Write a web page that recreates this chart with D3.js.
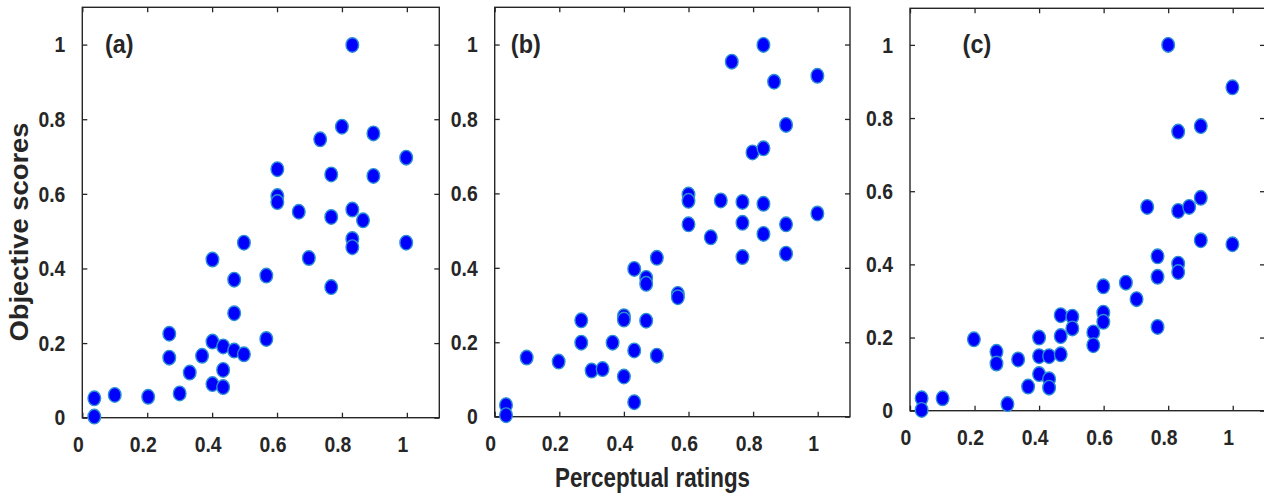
<!DOCTYPE html>
<html>
<head>
<meta charset="utf-8">
<script src="https://cdn.jsdelivr.net/npm/d3@7"></script>
<style>
  body { margin: 0; background: #fff; }
  text { font-family: "Liberation Sans", Arial, sans-serif; font-weight: bold; fill: #262626; }
</style>
</head>
<body>
<div id="chart"></div>
<script>
// data
const xA = [0.037,0.037,0.10,0.203,0.268,0.268,0.30,0.331,0.369,0.401,0.401,0.401,0.434,0.434,0.434,0.468,0.468,0.468,0.498,0.498,
  0.567,0.567,0.601,0.601,0.601,0.667,0.698,0.733,0.767,0.767,0.767,0.80,0.832,0.832,0.832,0.832,0.865,0.897,0.897,0.998,0.998];
const yA = [0.052,0.003,0.061,0.056,0.225,0.161,0.065,0.121,0.166,0.424,0.204,0.09,0.191,0.128,0.082,0.37,0.28,0.18,0.469,0.17,
  0.381,0.211,0.666,0.594,0.578,0.552,0.428,0.746,0.652,0.538,0.35,0.78,0.999,0.558,0.479,0.457,0.529,0.762,0.648,0.697,0.469];

const xB = [0.035,0.035,0.099,0.198,0.268,0.268,0.30,0.334,0.365,0.40,0.40,0.40,0.432,0.432,0.432,0.469,0.469,0.469,0.502,0.502,
  0.567,0.567,0.60,0.60,0.60,0.669,0.70,0.734,0.767,0.767,0.767,0.798,0.832,0.832,0.832,0.832,0.865,0.902,0.902,0.902,0.999,0.999];
const yB = [0.031,0.004,0.159,0.148,0.259,0.199,0.124,0.128,0.199,0.27,0.261,0.108,0.397,0.178,0.039,0.373,0.357,0.258,0.427,0.164,
  0.33,0.321,0.597,0.58,0.517,0.482,0.581,0.954,0.577,0.521,0.429,0.71,0.999,0.721,0.572,0.491,0.90,0.784,0.517,0.438,0.916,0.546];

const xC = [0.036,0.036,0.101,0.198,0.268,0.268,0.302,0.335,0.366,0.40,0.40,0.40,0.431,0.431,0.431,0.467,0.467,0.467,0.503,0.503,
  0.568,0.568,0.599,0.599,0.599,0.669,0.702,0.735,0.767,0.767,0.767,0.80,0.831,0.831,0.831,0.831,0.865,0.901,0.901,0.901,0.999,0.999];
const yC = [0.034,0.002,0.034,0.195,0.161,0.129,0.018,0.14,0.066,0.20,0.149,0.10,0.149,0.086,0.063,0.261,0.204,0.154,0.257,0.225,
  0.214,0.179,0.34,0.268,0.243,0.35,0.305,0.557,0.422,0.366,0.229,1.0,0.763,0.546,0.402,0.379,0.557,0.778,0.582,0.466,0.884,0.455];

const tickVals = [0, 0.2, 0.4, 0.6, 0.8, 1];
const tickLabels = ["0", "0.2", "0.4", "0.6", "0.8", "1"];
const panelLabels = ["(a)", "(b)", "(c)"];
const xTitle = "Perceptual ratings";
const yTitle = "Objective scores";

const width = 1264, height = 494;
const axisColor = "#262626";

const panels = [
  { xs: xA, ys: yA, left: 82.3, right: 439.3, top: 7.3, bottom: 417.7, tagX: 0.07 },
  { xs: xB, ys: yB, left: 494.7, right: 850, top: 7.3, bottom: 416.7, tagX: 0.05 },
  { xs: xC, ys: yC, left: 910, right: 1265, top: 8.3, bottom: 410.7, tagX: 0.163 }
];

const svg = d3.select("#chart").append("svg")
  .attr("width", width)
  .attr("height", height);

panels.forEach((p, i) => {
  const x = d3.scaleLinear().domain([0, 1.1]).range([p.left, p.right]);
  const y = d3.scaleLinear().domain([0, 1.1]).range([p.bottom, p.top]);
  const g = svg.append("g");

  // inward ticks on all four sides, like the original
  const axes = [
    { ax: d3.axisBottom(x), t: `translate(0,${p.bottom})` },
    { ax: d3.axisTop(x), t: `translate(0,${p.top})` },
    { ax: d3.axisLeft(y), t: `translate(${p.left},0)` },
    { ax: d3.axisRight(y), t: `translate(${p.right},0)` }
  ];
  axes.forEach(a => {
    const ag = g.append("g")
      .attr("transform", a.t)
      .call(a.ax.tickValues(tickVals).tickSizeInner(-5).tickSizeOuter(0).tickFormat(""));
    ag.select(".domain").remove();
    ag.selectAll("line").attr("stroke", axisColor).attr("stroke-width", 1.3);
  });

  // frame
  g.append("rect")
    .attr("x", p.left).attr("y", p.top)
    .attr("width", p.right - p.left).attr("height", p.bottom - p.top)
    .attr("fill", "none").attr("stroke", axisColor).attr("stroke-width", 1.4);

  // tick labels (the source font is a bit condensed)
  g.selectAll(".xt").data(tickVals).enter().append("text")
    .attr("class", "xt")
    .attr("transform", d => `translate(${x(d) - 4},${p.bottom + 34}) scale(0.9,1)`)
    .attr("text-anchor", "middle")
    .style("font-size", "21.5px")
    .text((d, k) => tickLabels[k]);

  g.selectAll(".yt").data(tickVals).enter().append("text")
    .attr("class", "yt")
    .attr("transform", d => `translate(${p.left - 17},${y(d)}) scale(0.9,1)`)
    .attr("dy", "0.36em")
    .attr("text-anchor", "end")
    .style("font-size", "21.5px")
    .text((d, k) => tickLabels[k]);

  // points
  const pts = p.xs.map((v, k) => [v, p.ys[k]]);
  g.selectAll("ellipse").data(pts).enter().append("ellipse")
    .attr("cx", d => x(d[0]))
    .attr("cy", d => y(d[1]))
    .attr("rx", 6.3)
    .attr("ry", 7.3)
    .attr("fill", "#0000ff")
    .attr("stroke", "#2a8fd3")
    .attr("stroke-width", 1.4);

  // panel tag
  g.append("text")
    .attr("transform", `translate(${x(p.tagX)},${y(1)}) scale(0.9,1)`)
    .attr("dy", "0.32em")
    .style("font-size", "26px")
    .text(panelLabels[i]);
});

svg.append("text")
  .attr("x", 652.5)
  .attr("y", 486.5)
  .attr("text-anchor", "middle")
  .attr("textLength", 195)
  .attr("lengthAdjust", "spacingAndGlyphs")
  .style("font-size", "28px")
  .text(xTitle);

svg.append("text")
  .attr("transform", "translate(28,232) rotate(-90)")
  .attr("text-anchor", "middle")
  .attr("textLength", 219)
  .attr("lengthAdjust", "spacingAndGlyphs")
  .style("font-size", "25px")
  .text(yTitle);
</script>
</body>
</html>
